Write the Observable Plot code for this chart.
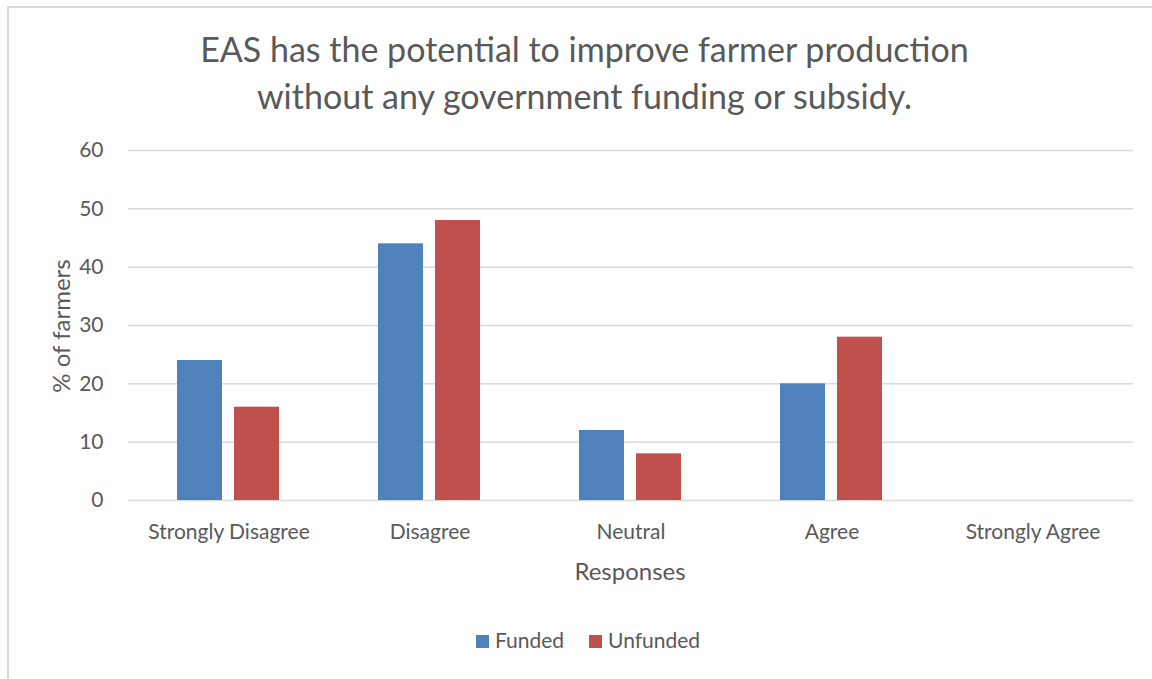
<!DOCTYPE html>
<html><head><meta charset="utf-8">
<script src="https://cdn.jsdelivr.net/npm/d3@7"></script>
<script src="https://cdn.jsdelivr.net/npm/@observablehq/plot@0.6"></script>
<style>
body{margin:0;background:#fff;font-family:Lato,sans-serif;}
#wrap{position:relative;width:1152px;height:679px;overflow:hidden;background:#fff;}
#frame{position:absolute;left:7px;top:6px;width:1200px;height:700px;border-left:2px solid #d9d9d9;border-top:2px solid #d9d9d9;box-sizing:border-box;}
#chart{position:absolute;left:0;top:0;}
.t{position:absolute;color:#595959;white-space:nowrap;}
#title{left:0;width:1169px;top:25px;text-align:center;font-size:34px;line-height:47px;}
#xlabel{left:0;width:1260px;top:556px;text-align:center;font-size:24px;}
#ylabel{left:60px;top:326px;font-size:24px;transform:translate(-50%,-50%) rotate(-90deg);}
#legend{left:0;width:1176px;top:627px;display:flex;justify-content:center;font-size:21px;gap:25px;}
#legend span.sw{display:inline-block;width:13px;height:13px;margin-right:6px;vertical-align:0px;}
</style></head>
<body>
<div id="wrap">
  <div id="frame"></div>
  <div id="chart"></div>
  <div class="t" id="title">EAS has the potential to improve farmer production<br>without any government funding or subsidy.</div>
  <div class="t" id="xlabel">Responses</div>
  <div class="t" id="ylabel">% of farmers</div>
  <div class="t" id="legend"></div>
</div>
<script>
const categories = ["Strongly Disagree", "Disagree", "Neutral", "Agree", "Strongly Agree"];
const series = ["Funded", "Unfunded"];
const funded = [24, 44, 12, 20, 0];
const unfunded = [16, 48, 8, 28, 0];
const yTicks = [0, 10, 20, 30, 40, 50, 60];
const colors = ["#4f81bd", "#c0504d"];

const data = [];
categories.forEach((c, i) => {
  data.push({category: c, series: series[0], value: funded[i]});
  data.push({category: c, series: series[1], value: unfunded[i]});
});

const plot = Plot.plot({
  width: 1152,
  height: 679,
  marginTop: 150,
  marginBottom: 179,
  marginLeft: 128,
  marginRight: 19,
  style: {fontFamily: "Lato, sans-serif", fontSize: "21px", color: "#595959", background: "transparent"},
  fx: {domain: categories, padding: 0, label: null},
  x: {domain: series, paddingInner: 0.21, paddingOuter: 0.868, axis: null},
  y: {domain: [0, 60], label: null},
  color: {domain: series, range: colors},
  marks: [
    Plot.gridY(yTicks, {stroke: "#d9d9d9", strokeOpacity: 1, strokeWidth: 1.5}),
    Plot.barY(data, {fx: "category", x: "series", y: "value", fill: "series"}),
    Plot.axisY(yTicks, {tickSize: 0, tickPadding: 25, label: null, fontSize: 21, fill: "#595959"}),
    Plot.axisFx({anchor: "bottom", tickSize: 0, tickPadding: 24, label: null, fontSize: 21, fill: "#595959"})
  ]
});
document.getElementById("chart").appendChild(plot);

const legend = document.getElementById("legend");
series.forEach((s, i) => {
  const item = document.createElement("div");
  item.innerHTML = `<span class="sw" style="background:${colors[i]}"></span>${s}`;
  legend.appendChild(item);
});
</script>
</body></html>
